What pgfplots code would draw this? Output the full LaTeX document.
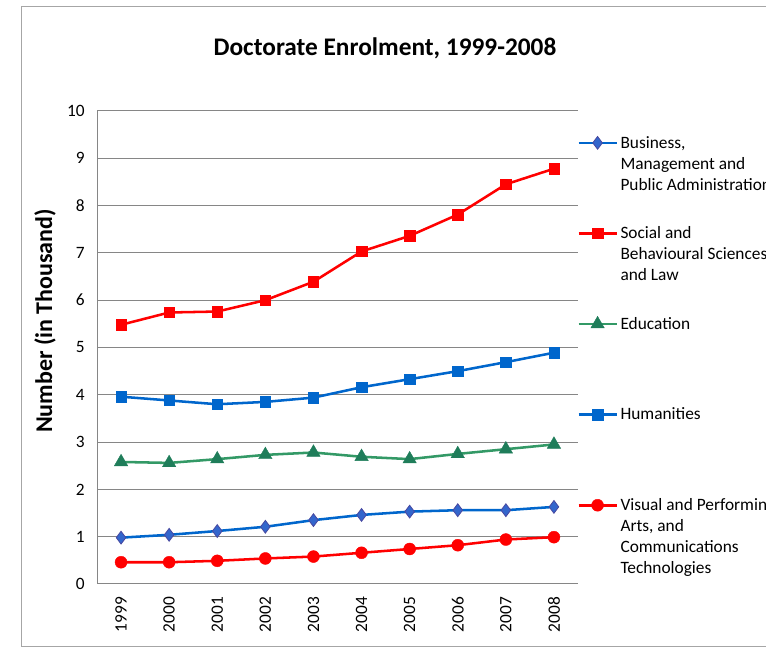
\documentclass[border=0pt]{standalone}
\usepackage{fontspec}
\setmainfont{Carlito}
\usepackage{pgfplots}
\pgfplotsset{compat=1.18}

\definecolor{bizline}{RGB}{0,102,204}
\definecolor{bizmark}{RGB}{51,102,204}
\definecolor{bizedge}{RGB}{72,72,160}
\definecolor{socred}{RGB}{255,0,0}
\definecolor{eduline}{RGB}{51,153,102}
\definecolor{edumark}{RGB}{31,125,90}
\definecolor{humblue}{RGB}{0,102,204}
\definecolor{axgray}{RGB}{134,134,134}

% legend cells; \newline because \\ ends a matrix row
\newcommand{\legtxt}[1]{\parbox[t]{200pt}{\strut #1}}

\begin{document}
\begin{tikzpicture}
% page = 766 x 648 px at 0.75pt per px
\path[use as bounding box] (0,0) rectangle (574.5pt,486pt);
\clip (0,0) rectangle (574.5pt,486pt);
\draw[gray!70, line width=0.75pt] (580pt,480.75pt) -- (15.75pt,480.75pt) -- (15.75pt,0.75pt) -- (580pt,0.75pt);

\node[font=\fontsize{19}{23}\selectfont\bfseries] at (288.75pt,449.5pt) {Doctorate Enrolment, 1999-2008};
\node[font=\fontsize{18}{22}\selectfont\bfseries, rotate=90] at (33.75pt,245.25pt) {Number (in Thousand)};

\begin{axis}[
    at={(72.75pt,48pt)}, anchor=south west,
    scale only axis, width=360.75pt, height=354.75pt,
    xmin=-0.5, xmax=9.5, ymin=0, ymax=10,
    xtick={0,...,9},
    xticklabels={1999,2000,2001,2002,2003,2004,2005,2006,2007,2008},
    ytick={0,...,10},
    major tick length=0pt,
    axis x line*=bottom, axis y line*=left,
    axis line style={axgray, line width=0.75pt, -},
    ymajorgrids, grid style={axgray, line width=0.75pt},
    tick label style={font=\fontsize{13}{15.75}\selectfont},
    /pgf/number format/assume math mode=true,
    yticklabel style={anchor=east, inner xsep=9pt, inner ysep=0pt},
    xticklabel style={rotate=90, anchor=east, inner xsep=9.5pt, inner ysep=0pt},
    legend style={at={(axis description cs:0.998,0.953)}, anchor=north west,
        draw=none, fill=none, inner sep=0pt,
        row sep={67.95pt,between origins}, column sep=2pt,
        font=\fontsize{13}{15.75}\selectfont,
        cells={anchor=base west}, nodes={inner sep=0pt}},
    legend image code/.code={
        \draw[mark repeat=2, mark phase=2, #1] plot coordinates {(0pt,4pt) (14.25pt,4pt) (28.5pt,4pt)};},
    every axis plot/.append style={line width=1.9pt},
]

\addplot[bizline, mark=diamond*, mark size=4.8pt,
    mark options={fill=bizmark, draw=bizedge, line width=0.6pt}] coordinates {
(0,0.98) (1,1.04) (2,1.12) (3,1.21) (4,1.35)
(5,1.46) (6,1.53) (7,1.56) (8,1.56) (9,1.63)
};
\addlegendentry{\legtxt{Business,\newline Management and\newline Public Administration}}

\addplot[socred, mark=square*, mark size=3.9pt, mark options={line width=0.3pt}] coordinates {
(0,5.48) (1,5.74) (2,5.76) (3,6.00) (4,6.39)
(5,7.03) (6,7.36) (7,7.81) (8,8.45) (9,8.78)
};
\addlegendentry{\legtxt{Social and\newline Behavioural Sciences\newline and Law}}

\addplot[eduline, mark=triangle*, mark size=5.8pt,
    mark options={fill=edumark, draw=edumark, line width=0.3pt}] coordinates {
(0,2.58) (1,2.56) (2,2.64) (3,2.73) (4,2.78)
(5,2.69) (6,2.64) (7,2.75) (8,2.85) (9,2.95)
};
\addlegendentry{\legtxt{Education}}

\addplot[humblue, mark=square*, mark size=3.9pt, mark options={line width=0.3pt}] coordinates {
(0,3.96) (1,3.88) (2,3.80) (3,3.85) (4,3.94)
(5,4.16) (6,4.33) (7,4.50) (8,4.69) (9,4.89)
};
\addlegendentry{\legtxt{Humanities}}

\addplot[socred, mark=*, mark size=4.5pt, mark options={line width=0.3pt}] coordinates {
(0,0.46) (1,0.46) (2,0.49) (3,0.54) (4,0.58)
(5,0.66) (6,0.74) (7,0.82) (8,0.94) (9,0.99)
};
\addlegendentry{\legtxt{Visual and Performing\newline Arts, and\newline Communications\newline Technologies}}

\end{axis}
\end{tikzpicture}
\end{document}
